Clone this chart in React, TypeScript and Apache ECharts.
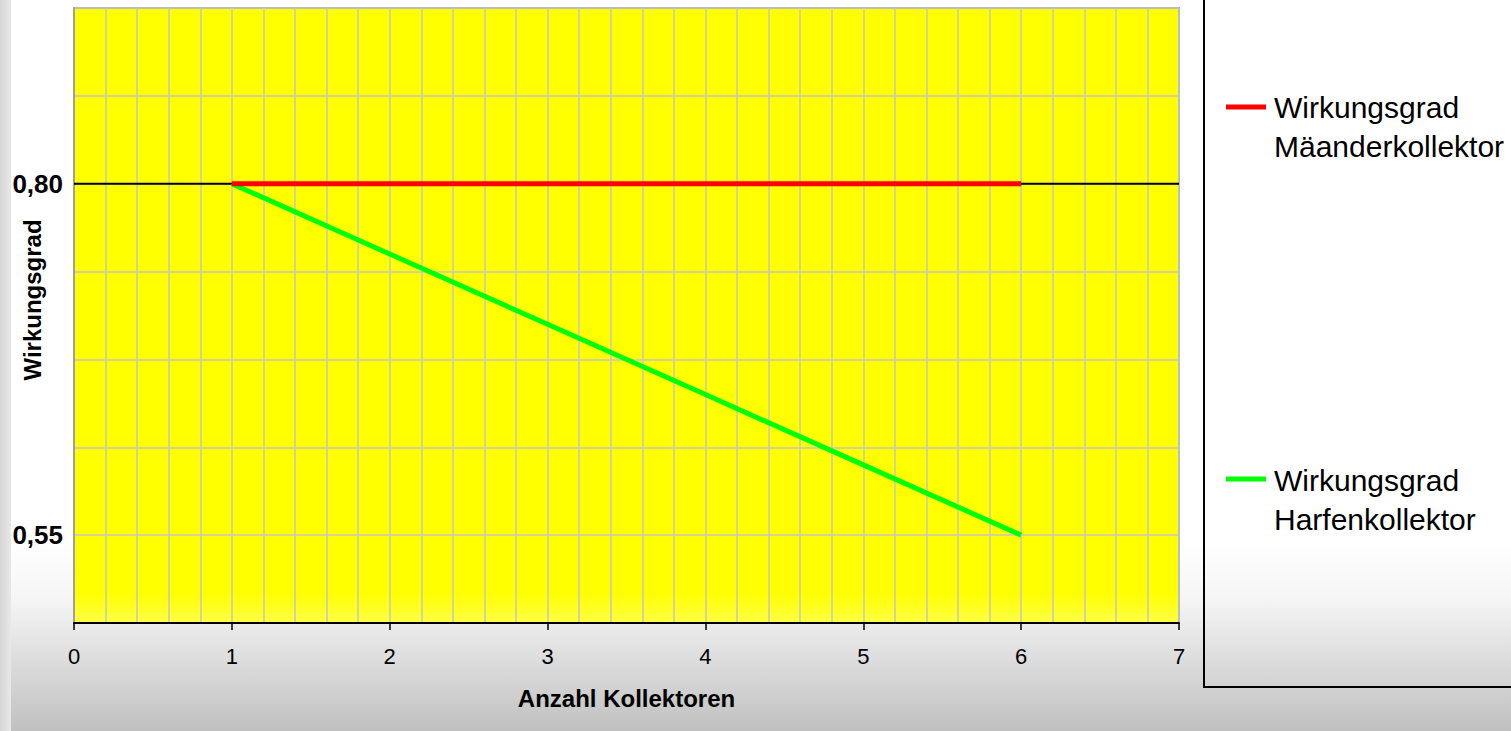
import React, { useEffect, useRef } from "react";
import * as echarts from "echarts";

const xKollektoren = [1, 2, 3, 4, 5, 6];
const maeanderValues = [0.8, 0.8, 0.8, 0.8, 0.8, 0.8];
const harfenValues = [0.8, 0.75, 0.7, 0.65, 0.6, 0.55];
const refLine = [
  [0, 0.8],
  [7, 0.8],
];
const yTickLabels = [0.55, 0.8];
const seriesNames = ["Wirkungsgrad\nMäanderkollektor", "Wirkungsgrad\nHarfenkollektor"];
const xAxisTitle = "Anzahl Kollektoren";
const yAxisTitle = "Wirkungsgrad";

const FONT = "'Liberation Sans', Arial, sans-serif";

export default function App() {
  const ref = useRef<HTMLDivElement>(null);
  useEffect(() => {
    document.body.style.margin = "0";
    const chart = echarts.init(ref.current!, null, { renderer: "svg" });
    const option: any = {
      animation: false,
      backgroundColor: "transparent",
      textStyle: { fontFamily: FONT },
      grid: {
        left: 74,
        right: 332,
        top: 8,
        bottom: 108,
        show: true,
        borderColor: "#a8a8a8",
        borderWidth: 2,
        backgroundColor: {
          type: "linear",
          x: 0,
          y: 0,
          x2: 0,
          y2: 1,
          colorStops: [
            { offset: 0, color: "#ffff00" },
            { offset: 0.95, color: "#ffff00" },
            { offset: 1, color: "#ffff44" },
          ],
        },
      },
      xAxis: {
        type: "value",
        min: 0,
        max: 7,
        interval: 1,
        axisLine: { show: true, lineStyle: { color: "#000", width: 2 } },
        axisTick: { show: true, length: 7, lineStyle: { color: "#000", width: 1.5 } },
        axisLabel: { color: "#000", fontSize: 22, margin: 22, fontFamily: FONT },
        splitLine: { show: true, lineStyle: { color: "#c4c4c4", width: 1.5 } },
        minorTick: { show: false, splitNumber: 5 },
        minorSplitLine: { show: true, lineStyle: { color: "#c4c4c4", width: 1.5 } },
        name: xAxisTitle,
        nameLocation: "middle",
        nameGap: 63,
        nameTextStyle: { color: "#000", fontSize: 24, fontWeight: "bold", fontFamily: FONT },
      },
      yAxis: {
        type: "value",
        min: 0.4875,
        max: 0.925,
        interval: 0.0625,
        axisLine: { show: true, lineStyle: { color: "#a0a0a0", width: 2 } },
        axisTick: { show: false },
        axisLabel: {
          color: "#000",
          fontSize: 26,
          fontWeight: "bold",
          margin: 11,
          fontFamily: FONT,
          formatter: (v: number) => {
            const hit = yTickLabels.find((t) => Math.abs(t - v) < 1e-6);
            return hit !== undefined ? hit.toFixed(2).replace(".", ",") : "";
          },
        },
        splitLine: { show: true, lineStyle: { color: "#c4c4c4", width: 1.5 } },
      },
      series: [
        {
          type: "line",
          name: "ref",
          data: refLine,
          symbol: "none",
          z: 1,
          lineStyle: { color: "#000", width: 2 },
          silent: true,
        },
        {
          type: "line",
          name: seriesNames[0],
          data: xKollektoren.map((x, i) => [x, maeanderValues[i]]),
          symbol: "none",
          z: 4,
          lineStyle: { color: "#ff0000", width: 5 },
        },
        {
          type: "line",
          name: seriesNames[1],
          data: xKollektoren.map((x, i) => [x, harfenValues[i]]),
          symbol: "none",
          z: 3,
          lineStyle: { color: "#00ff00", width: 5 },
        },
      ],
      graphic: [
        {
          type: "rect",
          z: -10,
          silent: true,
          shape: { x: 0, y: 540, width: 1511, height: 191 },
          style: {
            fill: {
              type: "linear",
              x: 0,
              y: 0,
              x2: 0,
              y2: 1,
              colorStops: [
                { offset: 0, color: "#ffffff" },
                { offset: 0.3, color: "#f6f6f6" },
                { offset: 1, color: "#c0c0c0" },
              ],
            },
          },
        },
        {
          type: "rect",
          z: -9,
          silent: true,
          shape: { x: 0, y: 0, width: 11, height: 731 },
          style: {
            fill: {
              type: "linear",
              x: 0,
              y: 0,
              x2: 1,
              y2: 0,
              colorStops: [
                { offset: 0, color: "#d6d6d6" },
                { offset: 1, color: "#e8e8e8" },
              ],
            },
          },
        },
        {
          type: "rect",
          silent: true,
          shape: { x: 1204, y: -10, width: 400, height: 697 },
          style: { fill: "transparent", stroke: "#000", lineWidth: 2 },
        },
        {
          type: "line",
          shape: { x1: 1226, y1: 107, x2: 1266, y2: 107 },
          style: { stroke: "#ff0000", lineWidth: 5 },
        },
        {
          type: "text",
          x: 1274,
          y: 88,
          style: {
            text: seriesNames[0],
            fontSize: 30,
            lineHeight: 39,
            fontFamily: FONT,
            fill: "#000",
            align: "left",
            verticalAlign: "top",
          },
        },
        {
          type: "line",
          shape: { x1: 1226, y1: 479, x2: 1266, y2: 479 },
          style: { stroke: "#00ff00", lineWidth: 5 },
        },
        {
          type: "text",
          x: 1274,
          y: 461,
          style: {
            text: seriesNames[1],
            fontSize: 30,
            lineHeight: 39,
            fontFamily: FONT,
            fill: "#000",
            align: "left",
            verticalAlign: "top",
          },
        },
        {
          type: "text",
          x: 32,
          y: 300,
          rotation: Math.PI / 2,
          style: {
            text: yAxisTitle,
            fontSize: 24,
            fontWeight: "bold",
            fontFamily: FONT,
            fill: "#000",
            align: "center",
            verticalAlign: "middle",
          },
        },
      ],
    };
    chart.setOption(option);
    return () => chart.dispose();
  }, []);
  return (
    <div
      ref={ref}
      style={{ position: "fixed", left: 0, top: 0, width: 1511, height: 731, background: "#fff" }}
    />
  );
}
